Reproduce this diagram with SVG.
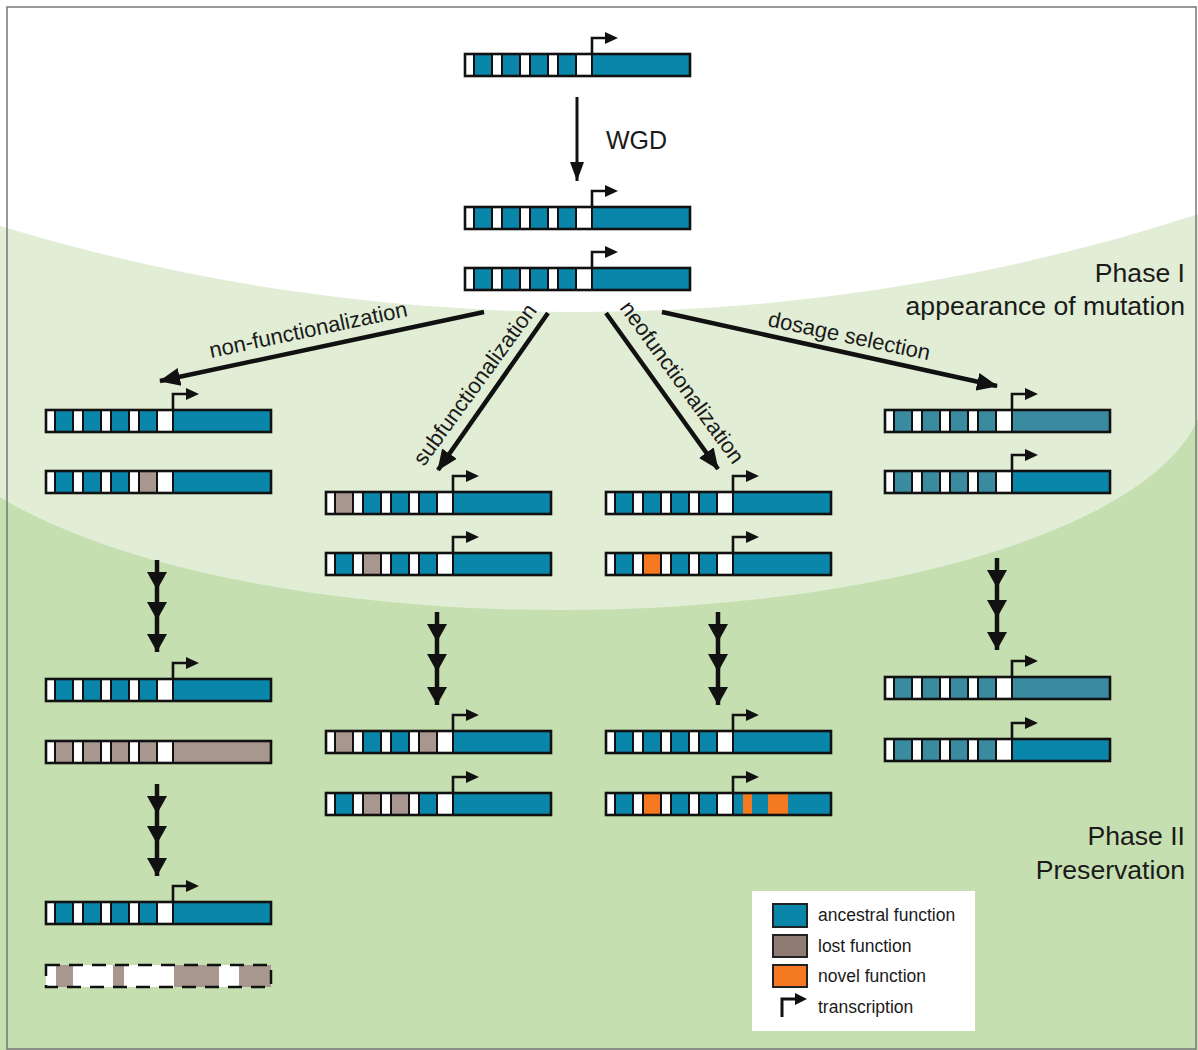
<svg xmlns="http://www.w3.org/2000/svg" xmlns:xlink="http://www.w3.org/1999/xlink" width="1198" height="1050" viewBox="0 0 1198 1050">
<style>
.bl{fill:#0b86ab}
.mu{fill:#3a8aa0}
.gr{fill:#a8978e}
.or{fill:#f47920}
.wh{fill:#ffffff;stroke:#111;stroke-width:2}
.ol{fill:none;stroke:#111;stroke-width:2.6}
.ln{fill:none;stroke:#111;stroke-width:4.5}
.t{font-family:"Liberation Sans",Arial,sans-serif;fill:#1a1a1a}
.lab{font-size:22px}
.ph{font-size:26.6px;text-anchor:end}
.lg{font-size:17.5px}
</style>
<defs>
<g id="tmpl">
<rect class="wh" x="0" y="0" width="9" height="22"/>
<rect class="wh" x="27" y="0" width="10" height="22"/>
<rect class="wh" x="55" y="0" width="10" height="22"/>
<rect class="wh" x="83" y="0" width="10" height="22"/>
<rect class="wh" x="111" y="0" width="16" height="22"/>
<rect class="ol" x="0" y="0" width="225" height="22"/>
</g>
<g id="tss">
<path d="M127,0V-16H142" fill="none" stroke="#111" stroke-width="2.6"/>
<path d="M140,-22L153,-16L140,-10Z" fill="#111"/>
</g>
<marker id="ah" markerUnits="userSpaceOnUse" markerWidth="22" markerHeight="20" refX="20" refY="10" orient="auto">
<path d="M0,1L21,10L0,19Z" fill="#111"/>
</marker>
<marker id="ahs" markerUnits="userSpaceOnUse" markerWidth="20" markerHeight="16" refX="19" refY="8" orient="auto">
<path d="M0,1L19,8L0,15Z" fill="#111"/>
</marker>
<marker id="ahv" markerUnits="userSpaceOnUse" markerWidth="20" markerHeight="22" refX="18" refY="10" orient="auto">
<path d="M0,0L18,10L0,20Z" fill="#111"/>
</marker>
</defs>

<g id="background">
<rect x="0" y="0" width="1198" height="1050" fill="#c6dfb0"/>
<rect x="0" y="0" width="1198" height="386" fill="#e1edd5"/>
<ellipse cx="560" cy="386" rx="645" ry="224" fill="#e1edd5"/>
<circle cx="580" cy="-1688" r="2000" fill="#ffffff"/>
<rect x="7" y="7" width="1189" height="1042" fill="none" stroke="#777" stroke-width="1.5"/>
</g>

<g id="connectors">
<line x1="577" y1="97" x2="577" y2="181" stroke="#111" stroke-width="3" marker-end="url(#ahs)"/>
<line class="ln" x1="484" y1="312" x2="160" y2="381" marker-end="url(#ah)"/>
<line class="ln" x1="548" y1="313" x2="438" y2="470" marker-end="url(#ah)"/>
<line class="ln" x1="606" y1="313" x2="718" y2="469" marker-end="url(#ah)"/>
<line class="ln" x1="662" y1="312" x2="997" y2="386" marker-end="url(#ah)"/>
<polyline class="ln" points="157,560 157,590 157,620 157,652" marker-mid="url(#ahv)" marker-end="url(#ahv)"/>
<polyline class="ln" points="157,784 157,814 157,844 157,876" marker-mid="url(#ahv)" marker-end="url(#ahv)"/>
<polyline class="ln" points="437,612 437,642 437,672 437,705" marker-mid="url(#ahv)" marker-end="url(#ahv)"/>
<polyline class="ln" points="718,612 718,642 718,672 718,705" marker-mid="url(#ahv)" marker-end="url(#ahv)"/>
<polyline class="ln" points="997,558 997,588 997,618 997,650" marker-mid="url(#ahv)" marker-end="url(#ahv)"/>
</g>

<g id="labels">
<text class="t" x="606" y="149" font-size="25">WGD</text>
<text class="t lab" transform="translate(211,358) rotate(-12)">non-functionalization</text>
<text class="t lab" transform="translate(424,467) rotate(-54)">subfunctionalization</text>
<text class="t lab" transform="translate(619,308) rotate(54)">neofunctionalization</text>
<text class="t lab" transform="translate(767,326) rotate(12)">dosage selection</text>
<text class="t ph" x="1185" y="282">Phase I</text>
<text class="t ph" x="1185" y="315">appearance of mutation</text>
<text class="t ph" x="1185" y="845">Phase II</text>
<text class="t ph" x="1185" y="879">Preservation</text>
</g>

<g id="gene-ancestral" transform="translate(465,54)"><rect class="bl" width="225" height="22"/><use href="#tmpl"/><use href="#tss"/></g>
<g id="gene-wgd-1" transform="translate(465,207)"><rect class="bl" width="225" height="22"/><use href="#tmpl"/><use href="#tss"/></g>
<g id="gene-wgd-2" transform="translate(465,268)"><rect class="bl" width="225" height="22"/><use href="#tmpl"/><use href="#tss"/></g>

<g id="gene-nf-1" transform="translate(46,410)"><rect class="bl" width="225" height="22"/><use href="#tmpl"/><use href="#tss"/></g>
<g id="gene-nf-2" transform="translate(46,471)"><rect class="bl" width="225" height="22"/><rect class="gr" x="93" width="18" height="22"/><use href="#tmpl"/></g>
<g id="gene-nf-3" transform="translate(46,679)"><rect class="bl" width="225" height="22"/><use href="#tmpl"/><use href="#tss"/></g>
<g id="gene-nf-4" transform="translate(46,741)"><rect class="gr" width="225" height="22"/><use href="#tmpl"/></g>
<g id="gene-nf-5" transform="translate(46,902)"><rect class="bl" width="225" height="22"/><use href="#tmpl"/><use href="#tss"/></g>
<g id="gene-nf-6" transform="translate(46,965)">
<rect width="225" height="22" fill="#ffffff"/>
<rect class="gr" x="10" width="17" height="22"/>
<rect class="gr" x="67" width="11" height="22"/>
<rect class="gr" x="128" width="45" height="22"/>
<rect class="gr" x="193" width="32" height="22"/>
<rect width="225" height="22" fill="none" stroke="#111" stroke-width="2.5" stroke-dasharray="14 9"/>
</g>

<g id="gene-sub-1" transform="translate(326,492)"><rect class="bl" width="225" height="22"/><rect class="gr" x="9" width="18" height="22"/><use href="#tmpl"/><use href="#tss"/></g>
<g id="gene-sub-2" transform="translate(326,553)"><rect class="bl" width="225" height="22"/><rect class="gr" x="37" width="18" height="22"/><use href="#tmpl"/><use href="#tss"/></g>
<g id="gene-sub-3" transform="translate(326,731)"><rect class="bl" width="225" height="22"/><rect class="gr" x="9" width="18" height="22"/><rect class="gr" x="93" width="18" height="22"/><use href="#tmpl"/><use href="#tss"/></g>
<g id="gene-sub-4" transform="translate(326,793)"><rect class="bl" width="225" height="22"/><rect class="gr" x="37" width="18" height="22"/><rect class="gr" x="65" width="18" height="22"/><use href="#tmpl"/><use href="#tss"/></g>

<g id="gene-neo-1" transform="translate(606,492)"><rect class="bl" width="225" height="22"/><use href="#tmpl"/><use href="#tss"/></g>
<g id="gene-neo-2" transform="translate(606,553)"><rect class="bl" width="225" height="22"/><rect class="or" x="37" width="18" height="22"/><use href="#tmpl"/><use href="#tss"/></g>
<g id="gene-neo-3" transform="translate(606,731)"><rect class="bl" width="225" height="22"/><use href="#tmpl"/><use href="#tss"/></g>
<g id="gene-neo-4" transform="translate(606,793)"><rect class="bl" width="225" height="22"/><rect class="or" x="37" width="18" height="22"/><rect class="or" x="137" width="9" height="22"/><rect class="or" x="162" width="20" height="22"/><use href="#tmpl"/><use href="#tss"/></g>

<g id="gene-dos-1" transform="translate(885,410)"><rect class="mu" width="225" height="22"/><use href="#tmpl"/><use href="#tss"/></g>
<g id="gene-dos-2" transform="translate(885,471)"><rect class="mu" width="127" height="22"/><rect class="bl" x="127" width="98" height="22"/><use href="#tmpl"/><use href="#tss"/></g>
<g id="gene-dos-3" transform="translate(885,677)"><rect class="mu" width="225" height="22"/><use href="#tmpl"/><use href="#tss"/></g>
<g id="gene-dos-4" transform="translate(885,739)"><rect class="mu" width="127" height="22"/><rect class="bl" x="127" width="98" height="22"/><use href="#tmpl"/><use href="#tss"/></g>

<g id="legend">
<rect x="752" y="891" width="223" height="140" fill="#ffffff"/>
<rect x="773" y="904" width="34" height="23" fill="#0b86ab" stroke="#222" stroke-width="2"/>
<rect x="773" y="935" width="34" height="22" fill="#8e7b73" stroke="#222" stroke-width="2"/>
<rect x="773" y="965" width="34" height="22" fill="#f47920" stroke="#222" stroke-width="2"/>
<path d="M782,1017V999H797" fill="none" stroke="#111" stroke-width="3"/>
<path d="M795,993L807,999L795,1005Z" fill="#111"/>
<text class="t lg" x="818" y="921">ancestral function</text>
<text class="t lg" x="818" y="952">lost function</text>
<text class="t lg" x="818" y="982">novel function</text>
<text class="t lg" x="818" y="1013">transcription</text>
</g>
</svg>
